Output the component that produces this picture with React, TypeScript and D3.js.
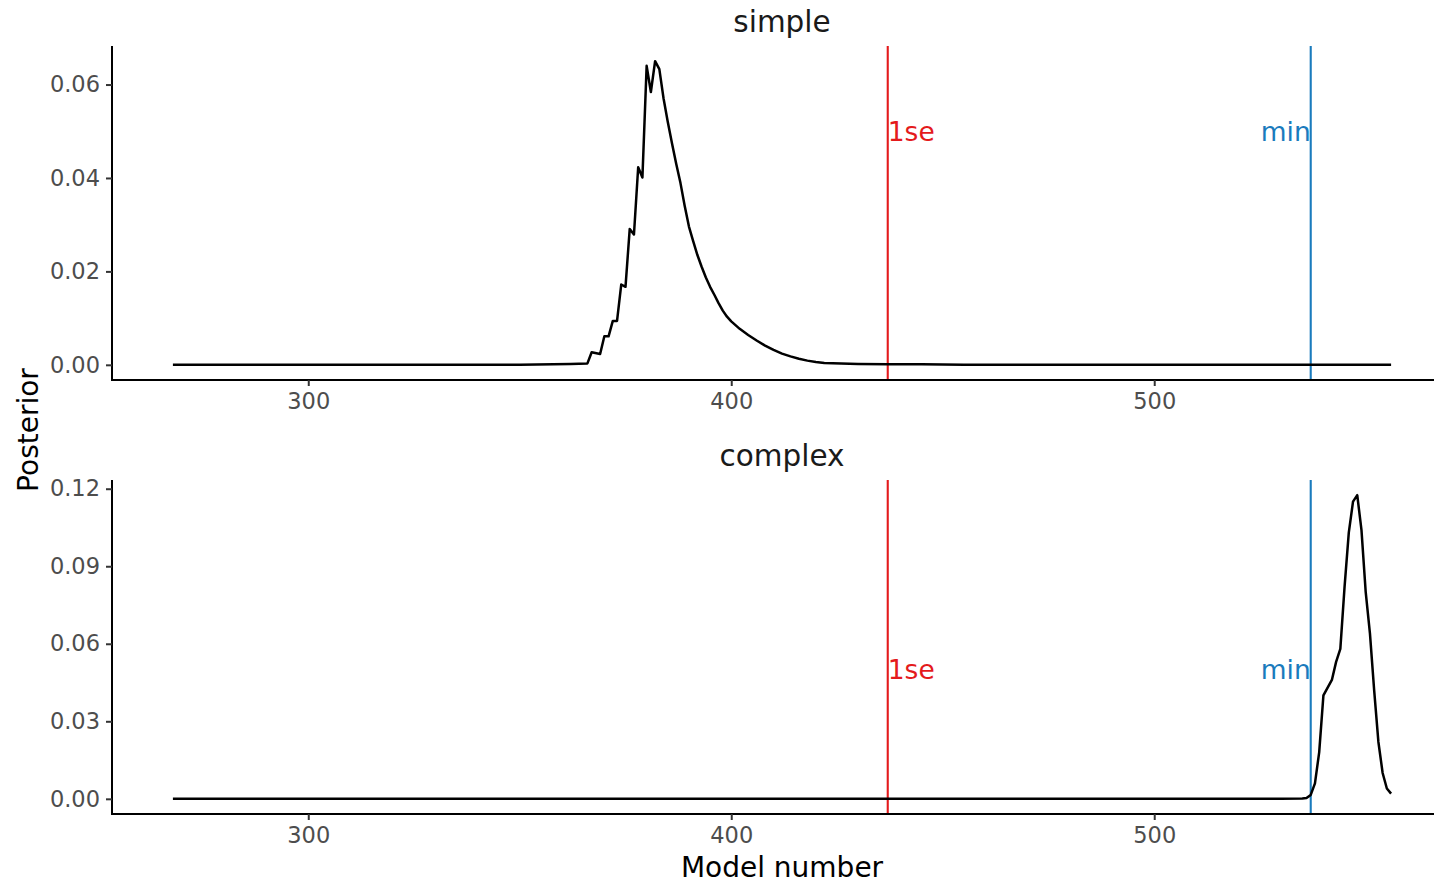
import React, { useEffect, useRef } from 'react'
import * as d3 from 'd3'

// model numbers and posterior for the "simple" panel
const simpleModels = [268, 300, 330, 350, 358, 362, 366, 367, 369, 370, 371, 372, 373, 374, 375, 376, 377, 378, 379, 380, 381, 382, 383,
  384, 385, 386, 387, 388, 389, 390, 391, 392, 393, 394, 395, 396, 397, 398, 399, 400, 402, 404, 406, 408, 410, 412, 414, 416, 418, 420,
  422, 426, 430, 437, 445, 455, 480, 520, 556]
const simplePosterior = [0, 0, 0, 0, 0.0001, 0.0002, 0.0003, 0.0027, 0.0023, 0.0061, 0.0061, 0.0094, 0.0094, 0.0172, 0.0167, 0.0291,
  0.0279, 0.0423, 0.0401, 0.064, 0.0584, 0.065, 0.0633,
  0.057, 0.052, 0.0474, 0.043, 0.0389, 0.034, 0.0296, 0.0265, 0.0235, 0.021, 0.0187, 0.0167, 0.015, 0.0132, 0.0116, 0.0103, 0.0093,
  0.0077, 0.0064, 0.0052, 0.0041, 0.0032, 0.0024, 0.0018, 0.0013, 0.0009, 0.0006,
  0.0004, 0.0003, 0.0002, 0.0001, 0.0001, 0, 0, 0, 0]

// model numbers and posterior for the "complex" panel
const complexModels = [268, 300, 400, 500, 530, 535, 536, 537, 538, 539, 540, 541, 542, 543, 544, 545, 546, 547, 548, 549, 550, 551,
  552, 553, 554, 555, 556]
const complexPosterior = [0, 0, 0, 0, 0, 0.0001, 0.0003, 0.0015, 0.006, 0.018, 0.04, 0.043, 0.046, 0.053, 0.058, 0.082, 0.103, 0.115,
  0.1175, 0.104, 0.08, 0.064, 0.042, 0.022, 0.01, 0.004, 0.002]

const panels = ['simple', 'complex']
const cutoffs = [437, 537]
const cutoffLabels = ['1se', 'min']
const cutoffColors = ['#e41a1c', '#1a7bbd']
const labelValue = 0.05
const xTicks = [300, 400, 500]
const yTicksSimple = [0, 0.02, 0.04, 0.06]
const yTicksComplex = [0, 0.03, 0.06, 0.09, 0.12]

const App = () => {
  const chartRef = useRef<SVGSVGElement>(null)

  useEffect(() => {
    const width = 1434
    const height = 885
    const font = 'DejaVu Sans, sans-serif'
    const left = 112
    const right = 1452
    const panelTops = [46, 480]
    const panelH = 334

    const svg = d3.select(chartRef.current)
    svg.selectAll('*').remove()
    svg.append('rect').attr('width', width).attr('height', height).attr('fill', '#fff')

    const allModels = simpleModels.concat(complexModels)
    const xMin = d3.min(allModels) as number
    const xMax = d3.max(allModels) as number
    const xPad = (xMax - xMin) * 0.05
    const x = d3.scaleLinear().domain([xMin - xPad, xMax + xPad]).range([left, right])

    const series = [
      { models: simpleModels, post: simplePosterior, ticks: yTicksSimple },
      { models: complexModels, post: complexPosterior, ticks: yTicksComplex },
    ]

    series.forEach((s, i) => {
      const top = panelTops[i]
      const bottom = top + panelH
      const yMax = d3.max(s.post) as number
      const yPad = yMax * 0.05
      const y = d3.scaleLinear().domain([-yPad, yMax + yPad]).range([bottom, top])

      const g = svg.append('g')

      // strip title
      g.append('text')
        .attr('x', (left + right) / 2)
        .attr('y', top - 14)
        .attr('text-anchor', 'middle')
        .attr('font-family', font)
        .attr('font-size', 29.5)
        .attr('fill', '#1a1a1a')
        .text(panels[i])

      // cutoff lines
      cutoffs.forEach((c, j) => {
        g.append('line')
          .attr('x1', x(c)).attr('x2', x(c))
          .attr('y1', top).attr('y2', bottom)
          .attr('stroke', cutoffColors[j])
          .attr('stroke-width', 2.1)
        g.append('text')
          .attr('x', x(c))
          .attr('y', y(labelValue))
          .attr('dy', '0.36em')
          .attr('text-anchor', j === 0 ? 'start' : 'end')
          .attr('font-family', font)
          .attr('font-size', 26.5)
          .attr('fill', cutoffColors[j])
          .text(cutoffLabels[j])
      })

      const line = d3.line<number>()
        .x((d, k) => x(s.models[k]))
        .y(d => y(d))

      g.append('path')
        .datum(s.post)
        .attr('d', line)
        .attr('fill', 'none')
        .attr('stroke', '#000')
        .attr('stroke-width', 2.5)
        .attr('stroke-linejoin', 'round')

      // axes
      const yAxis = g.append('g')
        .attr('transform', `translate(${left}, 0)`)
        .call(d3.axisLeft(y).tickValues(s.ticks).tickFormat(d3.format('.2f')).tickSizeOuter(0).tickSize(6).tickPadding(6))
      yAxis.select('.domain').attr('stroke', '#000').attr('stroke-width', 2).attr('d', `M0,${top}V${bottom}`)
      yAxis.selectAll('.tick line').attr('stroke', '#333').attr('stroke-width', 2)
      yAxis.selectAll('.tick text').attr('font-family', font).attr('font-size', 22.5).attr('fill', '#4d4d4d')

      const xAxis = g.append('g')
        .attr('transform', `translate(0, ${bottom})`)
        .call(d3.axisBottom(x).tickValues(xTicks).tickSizeOuter(0).tickSize(6).tickPadding(7))
      xAxis.select('.domain').attr('stroke', '#000').attr('stroke-width', 2).attr('d', `M${left - 1},0H${right}`)
      xAxis.selectAll('.tick line').attr('stroke', '#333').attr('stroke-width', 2)
      xAxis.selectAll('.tick text').attr('font-family', font).attr('font-size', 22.5).attr('fill', '#4d4d4d')
    })

    svg.append('text')
      .attr('x', (left + right) / 2)
      .attr('y', 877)
      .attr('text-anchor', 'middle')
      .attr('font-family', font)
      .attr('font-size', 28)
      .attr('fill', '#000')
      .text('Model number')

    svg.append('text')
      .attr('transform', `translate(38, ${(panelTops[0] + panelTops[1] + panelH) / 2}) rotate(-90)`)
      .attr('text-anchor', 'middle')
      .attr('font-family', font)
      .attr('font-size', 28)
      .attr('fill', '#000')
      .text('Posterior')
  }, [])

  return (
    <svg ref={chartRef} width={1434} height={885} style={{ position: 'absolute', left: 0, top: 0 }} />
  )
}

export default App
